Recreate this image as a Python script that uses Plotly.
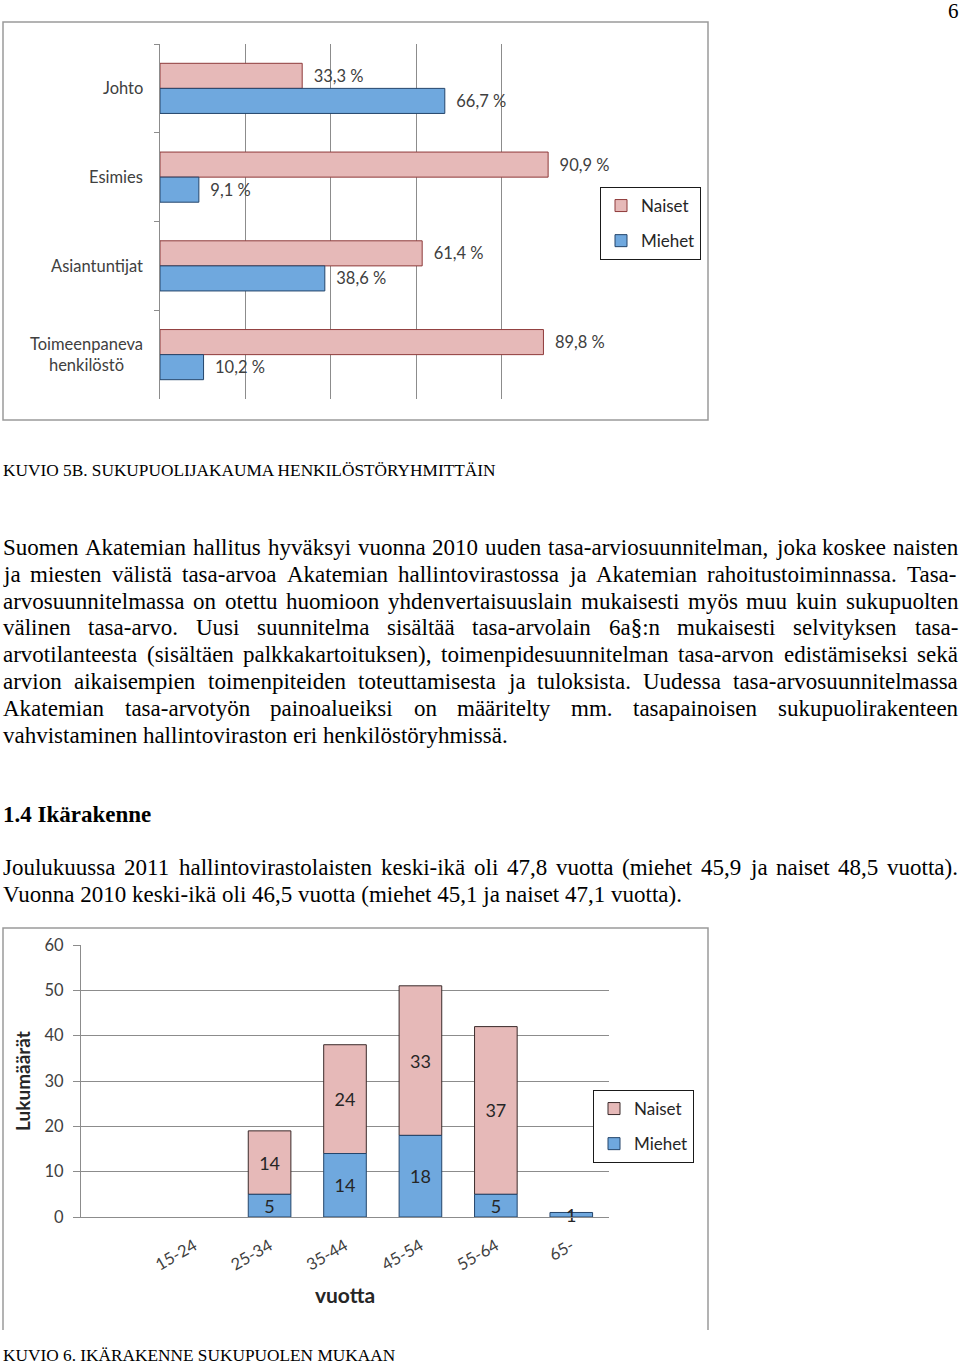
import plotly.graph_objects as go

W, H = 960, 1364

# ---------------- data ----------------
groups = ["Johto", "Esimies", "Asiantuntijat", "Toimeenpaneva<br>henkilöstö"]
naiset_pct = [33.3, 90.9, 61.4, 89.8]
miehet_pct = [66.7, 9.1, 38.6, 10.2]

age_groups = ["15-24", "25-34", "35-44", "45-54", "55-64", "65-"]
miehet_n = [0, 5, 14, 18, 5, 1]
naiset_n = [0, 14, 24, 33, 37, 0]

# ---------------- styles ----------------
PINK, PINK_EDGE = "#E6B9B8", "#8E3A3A"
BLUE, BLUE_EDGE = "#6FA8DE", "#24456B"
GRID = "#8C8C8C"
CHART_FONT = "Lato"
SERIF = "Liberation Serif"


def px(x):
    return x / W


def py(y):
    return 1 - y / H


def nz(vals):
    # empty cells are not drawn (no zero-height bar)
    return [v if v else None for v in vals]


fig = go.Figure()

# ---- chart 1: horizontal grouped bars ----
for name, vals, col, edge, grp in [("Naiset", naiset_pct, PINK, PINK_EDGE, "a1"),
                                   ("Miehet", miehet_pct, BLUE, BLUE_EDGE, "b1")]:
    fig.add_trace(go.Bar(
        y=groups, x=vals, orientation="h", name=name,
        marker=dict(color=col, line=dict(color=edge, width=1)),
        texttemplate="\u00a0\u00a0%{x:.1f}\u00a0%", textposition="outside",
        constraintext="none", cliponaxis=False, textangle=0,
        textfont=dict(family=CHART_FONT, size=16.5, color="#404040"),
        xaxis="x", yaxis="y", legend="legend", legendgroup=grp, hoverinfo="skip"))

# ---- chart 2: stacked bars (Naiset stacked on Miehet via base) ----
fig.add_trace(go.Bar(
    x=age_groups, y=nz(naiset_n), base=miehet_n, name="Naiset",
    marker=dict(color=PINK, line=dict(color="#3A2A2A", width=1)),
    text=[str(v) if v else "" for v in naiset_n], textposition="inside",
    insidetextanchor="middle", constraintext="none", cliponaxis=False, textangle=0,
    textfont=dict(family=CHART_FONT, size=18, color="#262626"),
    offsetgroup="s", xaxis="x2", yaxis="y2", legend="legend2",
    legendgroup="a2", hoverinfo="skip"))
fig.add_trace(go.Bar(
    x=age_groups, y=nz(miehet_n), name="Miehet",
    marker=dict(color=BLUE, line=dict(color=BLUE_EDGE, width=1)),
    text=[str(v) if v else "" for v in miehet_n], textposition="inside",
    insidetextanchor="middle", constraintext="none", cliponaxis=False, textangle=0,
    textfont=dict(family=CHART_FONT, size=18, color="#262626"),
    offsetgroup="s", xaxis="x2", yaxis="y2", legend="legend2",
    legendgroup="b2", hoverinfo="skip"))

legend_common = dict(
    xanchor="left", yanchor="top", bgcolor="white", bordercolor="#1a1a1a",
    borderwidth=1, font=dict(family=CHART_FONT, size=17, color="#262626"),
    tracegroupgap=10, itemwidth=30, traceorder="grouped")

fig.update_layout(
    width=W, height=H, margin=dict(l=0, r=0, t=0, b=0, autoexpand=False),
    paper_bgcolor="white", plot_bgcolor="white",
    barmode="group", bargap=0.435, separators=", ",
    showlegend=True,
    legend=dict(x=px(600), y=py(187), **legend_common),
    legend2=dict(x=px(593), y=py(1090), **legend_common),
    xaxis=dict(domain=[px(160), px(587)], anchor="y", range=[0, 100], dtick=20,
               showgrid=True, gridcolor=GRID, gridwidth=1, zeroline=False,
               showticklabels=False, ticks="", showline=False, fixedrange=True),
    yaxis=dict(domain=[py(399), py(44)], anchor="x", type="category",
               autorange="reversed", showline=True, linecolor=GRID, linewidth=1,
               ticks="outside", ticklen=5, tickcolor=GRID, tickson="boundaries",
               showgrid=False, showticklabels=False, fixedrange=True),
    xaxis2=dict(domain=[px(81), px(609)], anchor="y2", type="category",
                categoryorder="array", categoryarray=age_groups,
                range=[-1.5, 5.5], showline=True, linecolor=GRID, linewidth=1,
                ticks="", showgrid=False, zeroline=False, tickangle=-30,
                ticklabelstandoff=12,
                tickfont=dict(family=CHART_FONT, size=16.5, color="#404040"),
                title=dict(text="vuotta", standoff=14,
                           font=dict(family=CHART_FONT, size=21, color="#262626",
                                     weight="bold")),
                fixedrange=True),
    yaxis2=dict(domain=[py(1217), py(945)], anchor="x2", range=[0, 60], dtick=10,
                showgrid=True, gridcolor=GRID, gridwidth=1, zeroline=False,
                showline=True, linecolor=GRID, linewidth=1,
                ticks="outside", ticklen=7, tickcolor=GRID, ticklabelstandoff=6,
                tickfont=dict(family=CHART_FONT, size=16.5, color="#404040"),
                title=dict(text="Lukumäärät", standoff=8,
                           font=dict(family=CHART_FONT, size=19, color="#262626",
                                     weight="bold")),
                fixedrange=True),
)

# chart 1 category labels (centred multi-line, placed on the category axis)
for g in groups:
    fig.add_annotation(text=g, x=px(143), xref="paper", y=g, yref="y",
                       xanchor="right", yanchor="middle", align="center",
                       showarrow=False, borderpad=0, borderwidth=0,
                       font=dict(family=CHART_FONT, size=16.5, color="#404040"))

# chart frames
FRAME = "#9A9A9A"
fig.add_shape(type="rect", xref="paper", yref="paper",
              x0=px(3), x1=px(708), y0=py(420), y1=py(22),
              line=dict(color=FRAME, width=1.5), layer="below")
fig.add_shape(type="path", xref="paper", yref="paper",
              path=f"M {px(3)},{py(1330)} L {px(3)},{py(928)} L {px(708)},{py(928)} L {px(708)},{py(1330)}",
              line=dict(color=FRAME, width=1.5), layer="below")

# ---------------- page text ----------------
TIMES = {' ': 250, '!': 333, '(': 333, ')': 333, ',': 250, '-': 333, '.': 250,
         ':': 278, ';': 278, '§': 500, '%': 833}
for d in "0123456789":
    TIMES[d] = 500
TIMES.update(dict(a=444, b=500, c=444, d=500, e=444, f=333, g=500, h=500, i=278,
                  j=278, k=500, l=278, m=778, n=500, o=500, p=500, q=500, r=333,
                  s=389, t=278, u=500, v=500, w=722, x=500, y=500, z=444))
TIMES.update({'ä': 444, 'ö': 500, 'å': 444})
TIMES.update(dict(A=722, B=667, C=667, D=722, E=611, F=556, G=722, H=722, I=333,
                  J=389, K=722, L=611, M=889, N=722, O=722, P=556, Q=722, R=667,
                  S=556, T=611, U=722, V=722, W=944, X=722, Y=722, Z=611))
TIMES.update({'Ä': 722, 'Ö': 722})


def text_width(s, fs):
    return sum(TIMES.get(c, 500) for c in s) / 1000 * fs


def add_text(text, x_px, y_px, fs, bold=False, anchor="left"):
    fig.add_annotation(text=text, x=px(x_px), y=py(y_px), xref="paper", yref="paper",
                       xanchor=anchor, yanchor="middle", showarrow=False,
                       borderpad=0, borderwidth=0,
                       font=dict(family=SERIF, size=fs, color="black",
                                 weight="bold" if bold else "normal"))


def add_line(line, y_px, fs, justify, x0=3, x1=958):
    if not justify:
        add_text(line, x0, y_px, fs)
        return
    words = line.split(" ")
    widths = [text_width(w, fs) for w in words]
    gap = (x1 - x0 - sum(widths)) / (len(words) - 1)
    x = x0
    for w, wd in zip(words, widths):
        add_text(w, x, y_px, fs)
        x += wd + gap


BODY = 23
para1 = [
    "Suomen Akatemian hallitus hyväksyi vuonna 2010 uuden tasa-arviosuunnitelman, joka koskee naisten",
    "ja miesten välistä tasa-arvoa Akatemian hallintovirastossa ja Akatemian rahoitustoiminnassa. Tasa-",
    "arvosuunnitelmassa on otettu huomioon yhdenvertaisuuslain mukaisesti myös muu kuin sukupuolten",
    "välinen tasa-arvo. Uusi suunnitelma sisältää tasa-arvolain 6a§:n mukaisesti selvityksen tasa-",
    "arvotilanteesta (sisältäen palkkakartoituksen), toimenpidesuunnitelman tasa-arvon edistämiseksi sekä",
    "arvion aikaisempien toimenpiteiden toteuttamisesta ja tuloksista. Uudessa tasa-arvosuunnitelmassa",
    "Akatemian tasa-arvotyön painoalueiksi on määritelty mm. tasapainoisen sukupuolirakenteen",
    "vahvistaminen hallintoviraston eri henkilöstöryhmissä.",
]
para1_y = [547, 574, 601, 627, 654, 681, 708, 735]
for i, (ln, yy) in enumerate(zip(para1, para1_y)):
    add_line(ln, yy, BODY, justify=(i < len(para1) - 1))

para2 = [
    "Joulukuussa 2011 hallintovirastolaisten keski-ikä oli 47,8 vuotta (miehet 45,9 ja naiset 48,5 vuotta).",
    "Vuonna 2010 keski-ikä oli 46,5 vuotta (miehet 45,1 ja naiset 47,1 vuotta).",
]
para2_y = [867, 894]
for i, (ln, yy) in enumerate(zip(para2, para2_y)):
    add_line(ln, yy, BODY, justify=(i == 0))

add_text("1.4 Ikärakenne", 3, 814, BODY, bold=True)
add_text("KUVIO 5B. SUKUPUOLIJAKAUMA HENKILÖSTÖRYHMITTÄIN", 3, 470, 17.3)
add_text("KUVIO 6. IKÄRAKENNE SUKUPUOLEN MUKAAN", 3, 1355, 17.3)
add_text("6", 959, 11, 21, anchor="right")

fig.write_html("out.html", config={"displayModeBar": False},
               post_script="document.body.style.margin='0px';document.body.style.padding='0px';")
